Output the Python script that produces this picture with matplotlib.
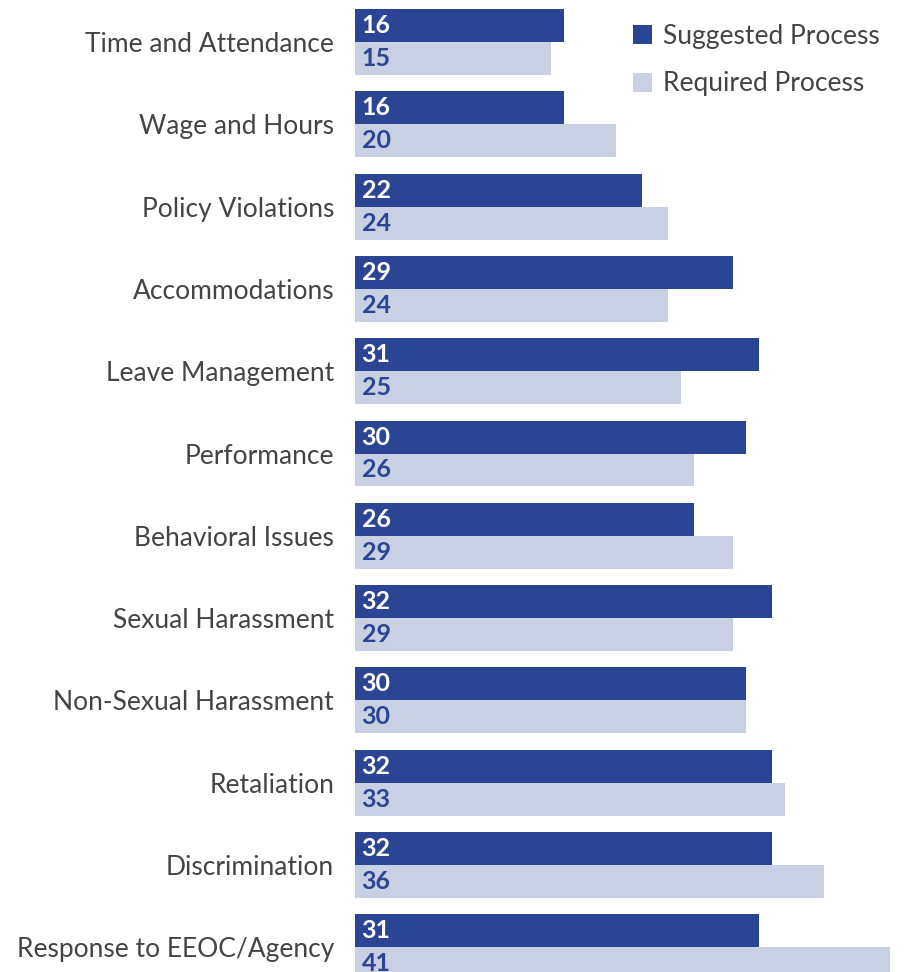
import matplotlib.pyplot as plt
import numpy as np

categorias = ["Time and Attendance", "Wage and Hours", "Policy Violations", "Accommodations",
              "Leave Management", "Performance", "Behavioral Issues", "Sexual Harassment",
              "Non-Sexual Harassment", "Retaliation", "Discrimination", "Response to EEOC/Agency"]
sugerido = [16, 16, 22, 29, 31, 30, 26, 32, 30, 32, 32, 31]
requerido = [15, 20, 24, 24, 25, 26, 29, 29, 30, 33, 36, 41]

azul = "#2a4593"
claro = "#c9d0e4"
fonte = "Lato"

fig = plt.figure(figsize=(9.07, 9.72), dpi=100)
ax = fig.add_axes([355 / 907, 0, 552 / 907, 1])

y = np.arange(len(categorias))
h = 0.4
ax.barh(y - h, sugerido, height=h, align="edge", color=azul, label="Suggested Process")
ax.barh(y, requerido, height=h, align="edge", color=claro, label="Required Process")

# valores dentro das barras
for i in range(len(categorias)):
    ax.text(0.5, y[i] - h / 2, str(sugerido[i]), color="white", fontsize=18, fontweight="bold",
            family=fonte, va="center", ha="left")
    ax.text(0.5, y[i] + h / 2, str(requerido[i]), color=azul, fontsize=18, fontweight="bold",
            family=fonte, va="center", ha="left")

ax.set_xlim(0, 552 / 13.04)
ax.set_ylim((972 - 42) / 82.3, -42 / 82.3)
ax.set_yticks(y)
ax.set_yticklabels(categorias, fontsize=19, family=fonte, color="#444444")
ax.tick_params(axis="y", length=0, pad=15)
ax.set_xticks([])
for s in ax.spines.values():
    s.set_visible(False)

ax.legend(loc="upper left", bbox_to_anchor=(633 / 907, 1 - 24 / 972), bbox_transform=fig.transFigure,
          frameon=False, handlelength=0.72, handleheight=0.72, handletextpad=0.42,
          labelspacing=0.85, prop={"family": fonte, "size": 19}, labelcolor="#444444",
          borderaxespad=0, borderpad=0)

plt.savefig("out.png")
